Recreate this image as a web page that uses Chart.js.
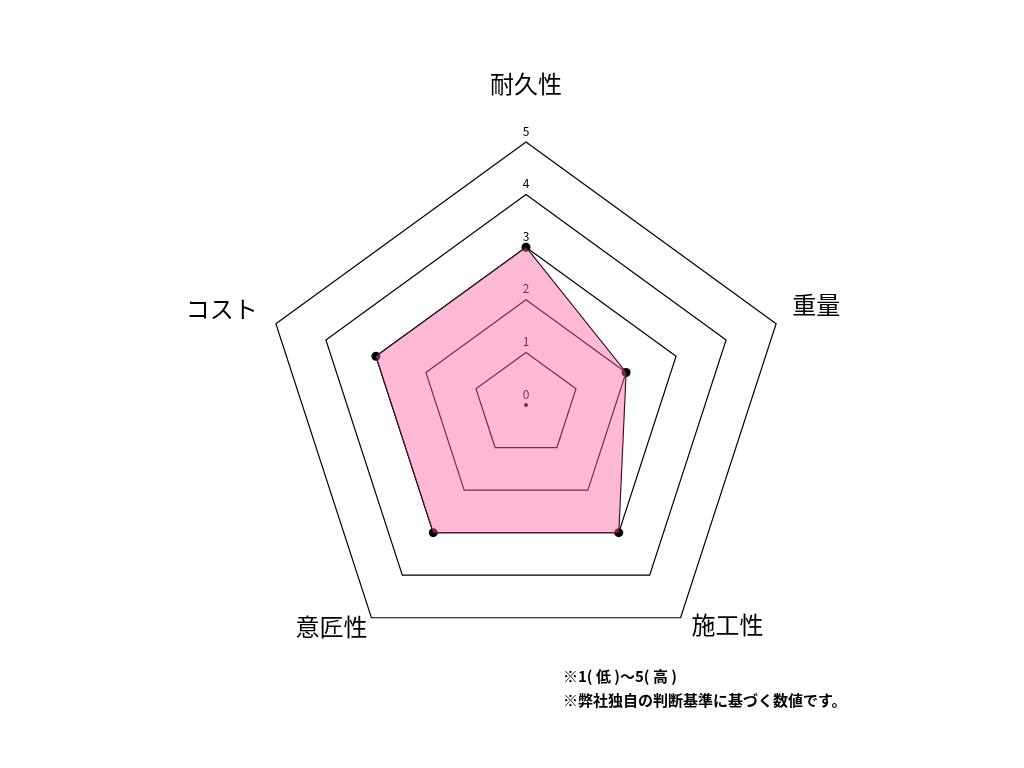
<!DOCTYPE html>
<html>
<head>
<meta charset="utf-8">
<script src="https://cdn.jsdelivr.net/npm/chart.js@4"></script>
<style>
  html, body { margin: 0; padding: 0; background: #fff; }
  #wrap { position: relative; width: 1024px; height: 768px; }
  .note {
    position: absolute; left: 563px;
    font-family: "Noto Sans CJK JP", sans-serif;
    font-size: 15px; font-weight: bold; color: #000;
    line-height: 1; white-space: nowrap;
  }
</style>
</head>
<body>
<div id="wrap">
  <canvas id="radar" width="1024" height="768"></canvas>
  <div class="note" id="note1" style="top:668px"></div>
  <div class="note" id="note2" style="top:692px"></div>
</div>
<script>
const categories = ['耐久性', '重量', '施工性', '意匠性', 'コスト'];
const scores = [3, 2, 3, 3, 3];
const tickValues = [0, 1, 2, 3, 4, 5];
const notes = ['※1( 低 )〜5( 高 )', '※弊社独自の判断基準に基づく数値です。'];

document.getElementById('note1').textContent = notes[0];
document.getElementById('note2').textContent = notes[1];

// tick numbers sit just above each ring, drawn under the pink fill
const tickLabels = {
  id: 'tickLabels',
  beforeDatasetsDraw(chart) {
    const scale = chart.scales.r;
    const ctx = chart.ctx;
    ctx.save();
    ctx.fillStyle = '#000';
    ctx.font = '12px "Noto Sans CJK JP", sans-serif';
    ctx.textAlign = 'center';
    ctx.textBaseline = 'middle';
    for (const v of tickValues) {
      const d = scale.getDistanceFromCenterForValue(v);
      ctx.fillText(String(v), scale.xCenter, scale.yCenter - d - 11);
    }
    ctx.beginPath();
    ctx.arc(scale.xCenter, scale.yCenter, 2, 0, Math.PI * 2);
    ctx.fill();
    ctx.restore();
  }
};

// axis names placed next to the outer ring corners
const axisNames = {
  id: 'axisNames',
  afterDraw(chart) {
    const scale = chart.scales.r;
    const ctx = chart.ctx;
    const place = [
      { align: 'center', dx: 0, dy: -58 },
      { align: 'left', dx: 16, dy: -19 },
      { align: 'left', dx: 11, dy: 7 },
      { align: 'right', dx: -4, dy: 9 },
      { align: 'right', dx: -18, dy: -15 }
    ];
    ctx.save();
    ctx.fillStyle = '#000';
    ctx.font = '24px "Noto Sans CJK JP", sans-serif';
    ctx.textBaseline = 'middle';
    categories.forEach((name, i) => {
      const p = scale.getPointPosition(i, scale.drawingArea);
      ctx.textAlign = place[i].align;
      ctx.fillText(name, p.x + place[i].dx, p.y + place[i].dy);
    });
    ctx.restore();
  }
};

const ctx = document.getElementById('radar').getContext('2d');
const chart = new Chart(ctx, {
  type: 'radar',
  data: {
    labels: categories,
    datasets: [
      {
        // pink fill on top
        data: scores,
        fill: true,
        backgroundColor: 'rgba(255, 100, 160, 0.45)',
        borderWidth: 0,
        pointRadius: 0,
        order: 0
      },
      {
        // black outline and points underneath
        data: scores,
        fill: false,
        borderColor: '#000',
        borderWidth: 1.2,
        pointRadius: 4.5,
        pointBackgroundColor: '#000',
        pointBorderWidth: 0,
        order: 1
      }
    ]
  },
  options: {
    responsive: false,
    animation: false,
    layout: { padding: { top: 142, bottom: 100, left: 263, right: 235 } },
    plugins: { legend: { display: false }, tooltip: { enabled: false } },
    scales: {
      r: {
        min: 0,
        max: 5,
        angleLines: { display: false },
        grid: { color: '#000', lineWidth: 1.2 },
        ticks: { display: false, stepSize: 1 },
        pointLabels: { display: false }
      }
    }
  },
  plugins: [tickLabels, axisNames]
});
</script>
</body>
</html>
